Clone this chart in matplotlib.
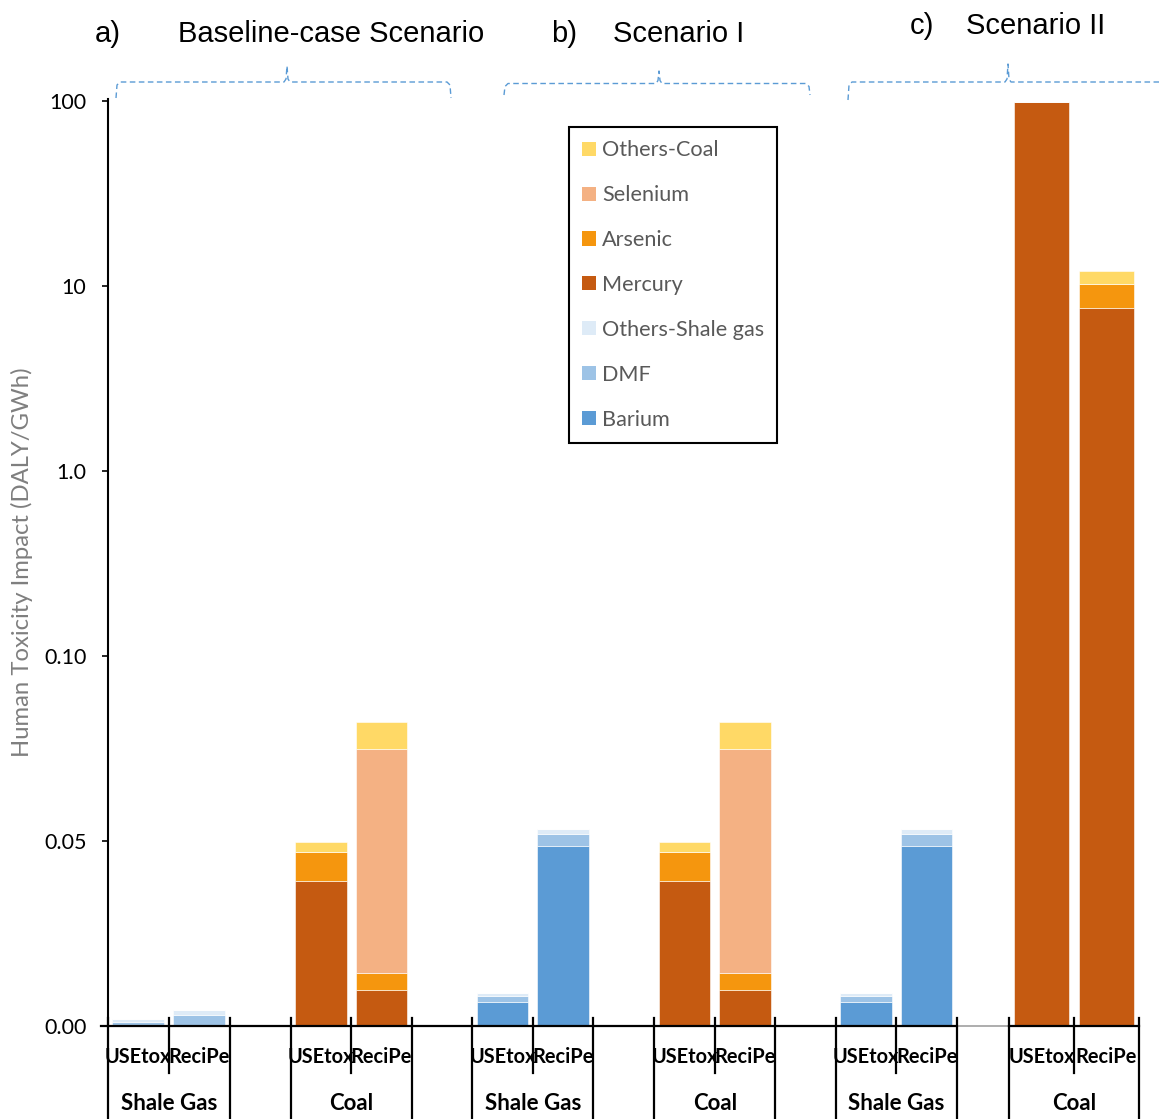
import numpy as np
import matplotlib.pyplot as plt
from matplotlib.patches import Patch
from matplotlib.lines import Line2D
from matplotlib.transforms import Affine2D, blended_transform_factory

plt.rcParams['font.family'] = ['Lato', 'DejaVu Sans']

W, H = 1159, 1119

# ---- data (one entry per bar: 6 groups x 2 methods) ----
methods = ["USEtox", "ReciPe"]
groups = ["Shale Gas", "Coal", "Shale Gas", "Coal", "Shale Gas", "Coal"]
tags = ["a)", "b)", "c)"]
scenarios = ["Baseline-case Scenario", "Scenario I", "Scenario II"]

barium       = [0, 0,           0, 0,           0.0066, 0.0487,   0, 0,           0.0066, 0.0487,   0, 0]
dmf          = [0.0012, 0.0031, 0, 0,           0.0016, 0.0032,   0, 0,           0.0016, 0.0032,   0, 0]
others_shale = [0.0006, 0.0011, 0, 0,           0.00065, 0.00135, 0, 0,           0.00065, 0.00135, 0, 0]
mercury      = [0, 0,           0.0392, 0.0097, 0, 0,             0.0392, 0.0097, 0, 0,             98.3, 7.57]
arsenic      = [0, 0,           0.0078, 0.0045, 0, 0,             0.0078, 0.0045, 0, 0,             0.3, 2.68]
selenium     = [0, 0,           0, 0.0606,      0, 0,             0, 0.0606,      0, 0,             0, 0.06]
others_coal  = [0, 0,           0.0028, 0.0074, 0, 0,             0.0028, 0.0074, 0, 0,             0.6, 1.74]

series = [("Barium", barium, "#5B9BD5"),
          ("DMF", dmf, "#9DC3E6"),
          ("Others-Shale gas", others_shale, "#DEEBF7"),
          ("Mercury", mercury, "#C55A11"),
          ("Arsenic", arsenic, "#F5960E"),
          ("Selenium", selenium, "#F4B183"),
          ("Others-Coal", others_coal, "#FFD966")]

yticks = [0, 0.05, 0.1, 1, 10, 100]
ytick_labels = ["0.00", "0.05", "0.10", "1.0", "10", "100"]

# ---- layout (pixels) ----
group_lo = np.array([107.9, 290.8, 472.2, 654.4, 835.9, 1008.8])
group_hi = np.array([229.8, 411.6, 593.4, 775.4, 956.9, 1139.1])
half = (group_hi - group_lo) / 2
xpos = np.ravel(np.column_stack([group_lo + half * 0.5, group_lo + half * 1.5]))
widths = np.repeat(half * 0.85, 2)


# linear 0..0.1, log above 0.1
def fwd(v):
    v = np.asarray(v, float)
    return np.where(v <= 0.1, v / 0.05, 3 + np.log10(np.maximum(v, 0.1)))


def inv(u):
    u = np.asarray(u, float)
    return np.where(u <= 2, u * 0.05, 10 ** (np.clip(u, 2, 12) - 3))


fig = plt.figure(figsize=(W / 100, H / 100), dpi=100)
pix = Affine2D().scale(1 / W, -1 / H).translate(0, 1) + fig.transFigure

ax = fig.add_axes([108 / W, 1 - 1026 / H, (W - 108) / W, (1026 - 99) / H])
ax.set_yscale('function', functions=(fwd, inv))
ax.set_xlim(108, W)
ax.set_ylim(0, 10 ** ((1026 - 99) / 185 - 3))

bottom = np.zeros(len(xpos))
for name, vals, col in series:
    vals = np.array(vals, float)
    ax.bar(xpos, vals, width=widths, bottom=bottom, color=col,
           edgecolor='white', linewidth=0.4, label=name)
    bottom += vals

ax.set_yticks(yticks)
ax.set_yticklabels(ytick_labels)
ax.minorticks_off()
ax.tick_params(axis='y', length=4.5, width=1.2, pad=11, labelsize=15.5, colors='black')
ax.set_xticks([])
for s in ['top', 'right', 'bottom']:
    ax.spines[s].set_visible(False)
ax.spines['left'].set_linewidth(1.5)

ax.set_ylabel("Human Toxicity Impact (DALY/GWh)", fontsize=17.2, color='#7F7F7F', labelpad=8)

# x axis line (piece under gap c) is lighter)
ax.plot([101, group_hi[4]], [0, 0], color='black', lw=1.6, clip_on=False)
ax.plot([group_hi[4], group_lo[5]], [0, 0], color='#A0A0A0', lw=1.2, clip_on=False)
ax.plot([group_lo[5], group_hi[5]], [0, 0], color='black', lw=1.6, clip_on=False)

# category lines and labels below the axis
tr = blended_transform_factory(ax.transData, pix)
for lo, hi, g in zip(group_lo, group_hi, groups):
    for xe in (lo, hi):
        ax.plot([xe, xe], [1018, H], color='black', lw=1.6, transform=tr, clip_on=False)
    mid = (lo + hi) / 2
    ax.plot([mid, mid], [1018, 1073], color='black', lw=1.6, transform=tr, clip_on=False)
    ax.text(mid, 1104, g, transform=tr, ha='center', va='center',
            fontsize=16, fontweight='bold')
for i, x in enumerate(xpos):
    ax.text(x, 1057, methods[i % 2], transform=tr, ha='center', va='center',
            fontsize=14.4, fontweight='bold')

# panel titles
title_font = dict(family='Liberation Sans', fontsize=21, va='baseline', ha='left')
fig.text(95, 42.5, tags[0], transform=pix, **title_font)
fig.text(178.5, 42.5, scenarios[0], transform=pix, **title_font)
fig.text(551, 42.5, tags[1], transform=pix, **title_font)
fig.text(613, 42.5, scenarios[1], transform=pix, **title_font)
fig.text(910, 33.5, tags[2], transform=pix, **title_font)
fig.text(966.5, 33.5, scenarios[2], transform=pix, **title_font)

# dashed braces over the panels
def brace(x0, x1, xm, yh, ytop, ybot):
    xs = [x0, x0 + 1, x0 + 4, xm - 3, xm - 1, xm, xm + 1, xm + 3, x1 - 4, x1 - 1, x1]
    ys = [ybot, yh + 3, yh, yh, yh - 3, ytop, yh - 3, yh, yh, yh + 3, ybot]
    fig.add_artist(Line2D(xs, ys, transform=pix, color='#5B9BD5', lw=1.0,
                          linestyle=(0, (4, 2.5))))

brace(116, 451, 287, 82, 66, 98)
brace(504, 810, 659, 83.5, 71, 95)
brace(848, 1175, 1008, 82, 64, 100)

# legend
handles = [Patch(facecolor=c, edgecolor='none', label=n) for n, v, c in series[::-1]]
leg = ax.legend(handles=handles, loc='upper left', bbox_to_anchor=(569.3, 127.3),
                bbox_transform=pix, borderaxespad=0, frameon=True, fancybox=False,
                edgecolor='black', framealpha=1, fontsize=15.6, labelcolor='#595959',
                handlelength=0.62, handleheight=0.62, handletextpad=0.3,
                labelspacing=1.15, borderpad=0.6)
leg.get_frame().set_linewidth(1.5)

fig.savefig("out.png", dpi=100)
